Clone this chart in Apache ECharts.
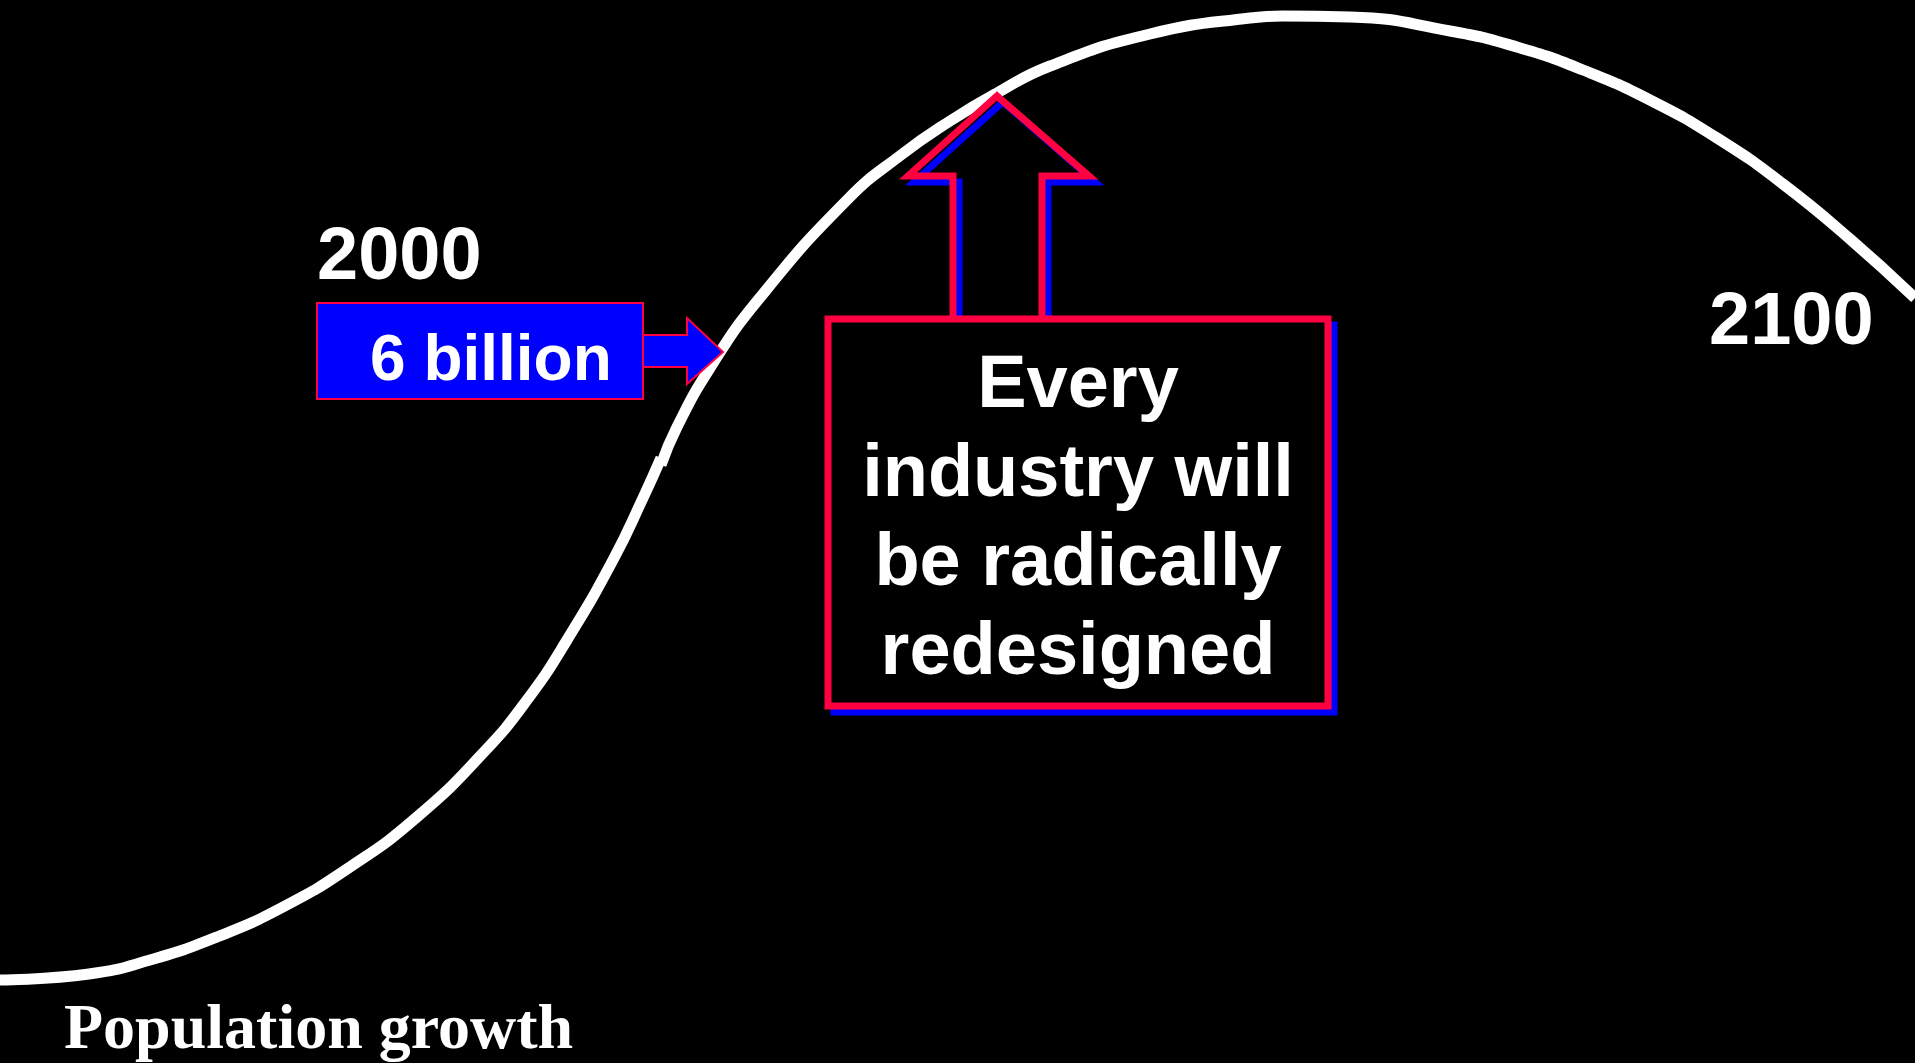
<!DOCTYPE html>
<html>
<head>
<meta charset="utf-8">
<title>Population growth</title>
<script src="https://cdn.jsdelivr.net/npm/echarts@6/dist/echarts.min.js"></script>
<style>
  html, body { margin: 0; padding: 0; background: #000; }
  #main { width: 1915px; height: 1063px; }
</style>
</head>
<body>
<div id="main"></div>
<script>
  // curve (x across, y down, same units as the canvas)
  // the drawing has a small jog around x=660, so it is kept as two pieces
  var lowX = [0, 89, 150, 217, 283, 350, 417, 483, 527, 567, 613, 643, 661]
  var lowY = [980, 974, 960, 937, 907, 867, 817, 753, 700, 640, 560, 498, 458]
  var highX = [661, 677, 710, 758, 847, 901, 950, 997, 1050, 1150, 1250, 1283, 1350, 1450, 1517, 1583, 1650, 1717, 1783, 1850, 1915]
  var highY = [465, 427, 368, 300, 200, 155, 121, 93, 66, 34, 18, 16, 17, 31, 47, 70, 100, 138, 184, 239, 298]

  // texts
  var startYear = '2000'
  var endYear = '2100'
  var startValue = '6 billion'
  var noteLines = ['Every', 'industry will', 'be radically', 'redesigned']
  var caption = 'Population growth'

  var red = '#ff0040'
  var blue = '#0000ff'
  var sans = '"Liberation Sans", Arial, sans-serif'
  var serif = '"Liberation Serif", "Times New Roman", serif'

  function pairs (xs, ys) {
    var out = []
    for (var i = 0; i < xs.length; i++) {
      out.push([xs[i], ys[i]])
    }
    return out
  }

  var chart = echarts.init(document.getElementById('main'))

  // big hollow arrow pointing up at the curve
  var bigArrow = [[953, 319], [953, 176], [908, 176], [997, 96], [1089, 176], [1042, 176], [1042, 319]]
  var bigArrowShadow = bigArrow.map(function (p) { return [p[0] + 6, p[1] + 6] })

  var graphics = [
    // blue shadow of the arrow and the box
    {
      type: 'polyline',
      z: 10,
      shape: { points: bigArrowShadow },
      style: { stroke: blue, lineWidth: 7, fill: null, lineJoin: 'miter' }
    },
    {
      type: 'rect',
      z: 10,
      shape: { x: 834, y: 325, width: 500, height: 387 },
      style: { stroke: blue, lineWidth: 7, fill: '#000' }
    },
    {
      type: 'polyline',
      z: 11,
      shape: { points: bigArrow },
      style: { stroke: red, lineWidth: 7, fill: null, lineJoin: 'miter' }
    },
    {
      type: 'rect',
      z: 11,
      shape: { x: 828, y: 319, width: 500, height: 387 },
      style: { stroke: red, lineWidth: 7, fill: '#000' }
    },
    // small arrow from the 6 billion box
    {
      type: 'polygon',
      z: 10,
      shape: { points: [[643, 335], [687, 335], [687, 318], [723, 352], [687, 384], [687, 367], [643, 367]] },
      style: { fill: blue, stroke: red, lineWidth: 2 }
    },
    {
      type: 'rect',
      z: 11,
      shape: { x: 317, y: 303, width: 326, height: 96 },
      style: { fill: blue, stroke: red, lineWidth: 2 }
    },
    {
      type: 'text',
      z: 12,
      x: 370,
      y: 362,
      style: { text: startValue, fill: '#fff', font: 'bold 64px ' + sans, textAlign: 'left', textVerticalAlign: 'middle' }
    },
    {
      type: 'text',
      z: 12,
      x: 317,
      y: 259,
      style: { text: startYear, fill: '#fff', font: 'bold 74px ' + sans, textAlign: 'left', textVerticalAlign: 'middle' }
    },
    {
      type: 'text',
      z: 12,
      x: 1709,
      y: 324,
      style: { text: endYear, fill: '#fff', font: 'bold 74px ' + sans, textAlign: 'left', textVerticalAlign: 'middle' }
    },
    {
      type: 'text',
      z: 12,
      x: 64,
      y: 1031,
      style: { text: caption, fill: '#fff', font: 'bold 64px ' + serif, textAlign: 'left', textVerticalAlign: 'middle' }
    }
  ]

  // the four lines inside the box
  noteLines.forEach(function (line, i) {
    graphics.push({
      type: 'text',
      z: 12,
      x: 1078,
      y: 387 + i * 89,
      style: { text: line, fill: '#fff', font: 'bold 74px ' + sans, textAlign: 'center', textVerticalAlign: 'middle' }
    })
  })

  var option = {
    backgroundColor: '#000',
    animation: false,
    grid: { left: 0, right: 0, top: 0, bottom: 0 },
    xAxis: { type: 'value', min: 0, max: 1915, show: false },
    yAxis: { type: 'value', min: 0, max: 1063, inverse: true, show: false },
    series: [
      {
        type: 'line',
        smooth: 0.5,
        symbol: 'none',
        clip: false,
        lineStyle: { color: '#fff', width: 11 },
        data: pairs(lowX, lowY)
      },
      {
        type: 'line',
        smooth: 0.5,
        symbol: 'none',
        clip: false,
        lineStyle: { color: '#fff', width: 11 },
        data: pairs(highX, highY)
      }
    ],
    graphic: graphics
  }

  chart.setOption(option)
</script>
</body>
</html>
